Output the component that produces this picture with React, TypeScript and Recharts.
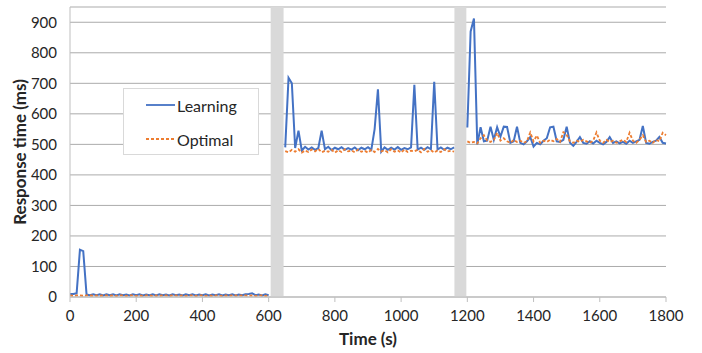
import {
  LineChart,
  Line,
  XAxis,
  YAxis,
  CartesianGrid,
  Legend,
  ReferenceArea,
} from 'recharts';

const FONT = 'Lato, "Open Sans", sans-serif';
const STEP = 10; // s between samples

// three test phases, each sampled every 10 s
const SEG_START = [0, 650, 1200];

const LEARN_A = [
  10, 10, 12, 155, 150, 8, 6, 9, 6, 9,
  5, 9, 6, 9, 5, 9, 6, 8, 5, 9,
  6, 9, 5, 8, 6, 9, 5, 9, 6, 8,
  5, 9, 6, 8, 5, 9, 6, 9, 5, 8,
  6, 9, 5, 8, 6, 9, 5, 8, 6, 9,
  5, 8, 6, 9, 10, 12, 6, 8, 5, 9,
  6,
];
const OPT_A = [
  5, 4, 5, 5, 4, 5, 5, 4, 5, 4,
  5, 5, 4, 5, 4, 5, 5, 4, 5, 5,
  4, 5, 4, 5, 5, 4, 5, 4, 5, 5,
  4, 5, 5, 4, 5, 4, 5, 5, 4, 5,
  5, 4, 5, 4, 5, 5, 4, 5, 4, 5,
  5, 4, 5, 5, 4, 5, 4, 5, 5, 4,
  5,
];

const LEARN_B = [
  490, 718, 700, 488, 545, 480, 492, 483, 490, 482,
  488, 545, 484, 492, 481, 489, 484, 491, 482, 488,
  483, 490, 481, 489, 484, 491, 482, 550, 680, 476,
  490, 482, 489, 483, 491, 482, 488, 484, 490, 695,
  483, 489, 482, 491, 484, 705, 483, 490, 482, 489,
  484, 490,
];
const OPT_B = [
  478, 474, 482, 476, 484, 473, 480, 475, 483, 477,
  485, 474, 479, 476, 482, 473, 481, 475, 484, 477,
  480, 474, 483, 476, 479, 473, 482, 475, 485, 477,
  481, 474, 484, 476, 480, 473, 483, 475, 479, 477,
  482, 474, 485, 476, 481, 473, 480, 475, 484, 477,
  479, 476,
];

const LEARN_C = [
  555, 870, 912, 500, 556, 510, 512, 558, 515, 556,
  525, 558, 557, 505, 510, 558, 505, 500, 510, 524,
  493, 505, 500, 512, 520, 556, 558, 510, 508, 515,
  558, 505, 495, 508, 524, 505, 502, 510, 503, 512,
  505, 500, 508, 524, 505, 510, 503, 508, 502, 512,
  505, 510, 515, 560, 505, 502, 508, 512, 524, 505,
  503,
];
const OPT_C = [
  510, 505, 508, 503, 520, 530, 512, 508, 515, 538,
  512, 520, 510, 505, 515, 508, 512, 505, 510, 539,
  510, 529, 505, 512, 508, 515, 510, 518, 508, 540,
  531, 510, 505, 512, 508, 515, 510, 505, 512, 539,
  512, 505, 515, 508, 512, 505, 510, 515, 508, 538,
  512, 505, 515, 530, 508, 512, 505, 515, 510, 538,
  530,
];

// grey bands = reconfiguration pauses between phases
const PAUSES: [number, number][] = [
  [606, 645],
  [1161, 1197],
];

const X_TICKS = [0, 200, 400, 600, 800, 1000, 1200, 1400, 1600, 1800];
const Y_TICKS = [0, 100, 200, 300, 400, 500, 600, 700, 800, 900];

const COLORS = {
  learning: '#4472C4',
  optimal:  '#ED7D31',
};

const LABELS: Record<string, string> = {
  learning: 'Learning',
  optimal:  'Optimal',
};

interface Row {
  t:        number;
  learning: number | null;
  optimal:  number | null;
}

function buildRows(): Row[] {
  const segs = [
    [LEARN_A, OPT_A],
    [LEARN_B, OPT_B],
    [LEARN_C, OPT_C],
  ];
  const rows: Row[] = [];
  segs.forEach(([learn, opt], s) => {
    if (s > 0) {
      // break the lines during the pause
      rows.push({ t: SEG_START[s] - STEP, learning: null, optimal: null });
    }
    learn.forEach((v, i) => {
      rows.push({ t: SEG_START[s] + i * STEP, learning: v, optimal: opt[i] });
    });
  });
  return rows;
}

function LegendBox() {
  const items = [
    { key: 'learning', y: 16, dash: undefined },
    { key: 'optimal',  y: 50, dash: '3 2' },
  ] as const;
  return (
    <div
      style={{
        width: 136,
        height: 67,
        boxSizing: 'border-box',
        border: '1px solid #d9d9d9',
        background: '#fff',
        position: 'relative',
        fontFamily: FONT,
        fontSize: 16,
        color: '#262626',
      }}
    >
      {items.map((it) => (
        <div
          key={it.key}
          style={{ position: 'absolute', left: 22, top: it.y - 11, height: 22, display: 'flex', alignItems: 'center' }}
        >
          <svg width={29} height={4} style={{ display: 'block' }}>
            <line
              x1={0}
              y1={2}
              x2={29}
              y2={2}
              stroke={COLORS[it.key]}
              strokeWidth={1.8}
              strokeDasharray={it.dash}
            />
          </svg>
          <span style={{ marginLeft: 2 }}>{LABELS[it.key]}</span>
        </div>
      ))}
    </div>
  );
}

export default function App() {
  const data = buildRows();
  const tick = { fontSize: 15, fill: '#262626', fontFamily: FONT };

  return (
    <div style={{ position: 'absolute', left: 0, top: 0, width: 702, height: 353, background: '#fff' }}>
      <LineChart
        width={702}
        height={353}
        data={data}
        margin={{ top: 7, right: 36, left: 0, bottom: 0 }}
      >
        <CartesianGrid vertical={false} stroke="#ababab" />
        {PAUSES.map(([a, b]) => (
          <ReferenceArea key={a} x1={a} x2={b} fill="#d9d9d9" fillOpacity={1} stroke="none" />
        ))}
        <XAxis
          dataKey="t"
          type="number"
          domain={[0, 1800]}
          ticks={X_TICKS}
          stroke="#bfbfbf"
          tick={tick}
          tickSize={5}
          tickMargin={8}
          height={56}
          label={{
            value: 'Time (s)',
            position: 'insideBottom',
            offset: 8,
            style: { fontSize: 17, fontWeight: 700, fill: '#262626', fontFamily: FONT },
          }}
        />
        <YAxis
          type="number"
          domain={[0, 950]}
          ticks={Y_TICKS}
          stroke="#bfbfbf"
          tick={tick}
          tickLine={false}
          tickMargin={7}
          width={70}
          label={{
            value: 'Response time (ms)',
            angle: -90,
            position: 'insideLeft',
            offset: 20,
            style: { fontSize: 17, fontWeight: 700, fill: '#262626', fontFamily: FONT, textAnchor: 'middle' },
          }}
        />
        <Legend
          layout="horizontal"
          verticalAlign="middle"
          align="center"
          content={() => <LegendBox />}
          wrapperStyle={{ left: 123, top: 88, width: 136, height: 67 }}
        />
        <Line
          dataKey="learning"
          stroke={COLORS.learning}
          strokeWidth={2}
          dot={false}
          isAnimationActive={false}
          type="linear"
        />
        <Line
          dataKey="optimal"
          stroke={COLORS.optimal}
          strokeWidth={1.8}
          strokeDasharray="3 2"
          dot={false}
          isAnimationActive={false}
          type="linear"
        />
      </LineChart>
    </div>
  );
}
